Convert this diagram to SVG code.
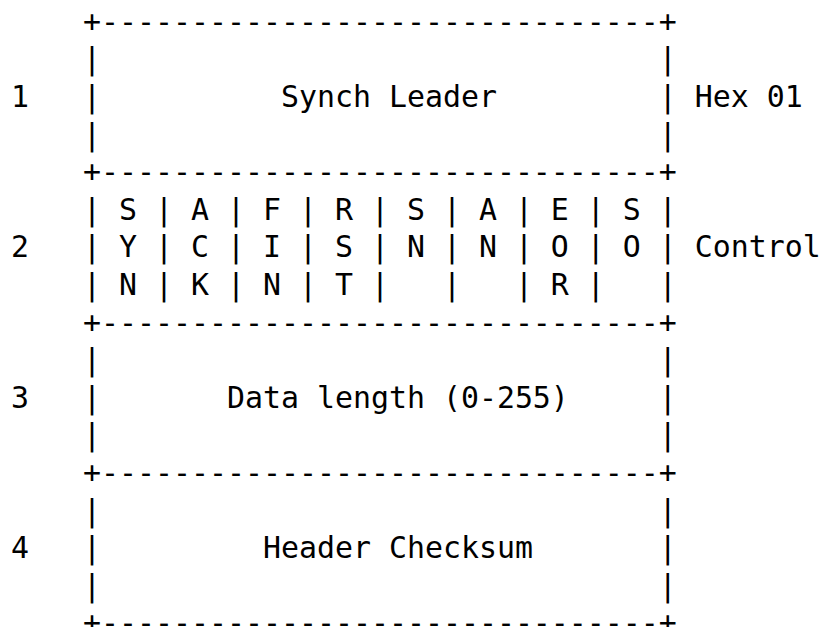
<svg xmlns="http://www.w3.org/2000/svg" width="824" height="627" viewBox="0 0 824 627">
<style>
text{font-family:"DejaVu Sans Mono","Liberation Mono",monospace;font-size:29.9px;fill:#000;white-space:pre}
</style>
<rect width="824" height="627" fill="#fff"/>
<g id="header-diagram" xml:space="preserve">
<g id="row1">
<text x="11" y="31.8">    +-------------------------------+</text>
<text x="11" y="69.4">    |                               |</text>
<text x="11" y="107">1   |          Synch Leader         | Hex 01</text>
<text x="11" y="144.6">    |                               |</text>
<text x="11" y="182.2">    +-------------------------------+</text>
</g>
<g id="row2">
<text x="11" y="219.8">    | S | A | F | R | S | A | E | S |</text>
<text x="11" y="257.4">2   | Y | C | I | S | N | N | O | O | Control</text>
<text x="11" y="295">    | N | K | N | T |   |   | R |   |</text>
<text x="11" y="332.6">    +-------------------------------+</text>
</g>
<g id="row3">
<text x="11" y="370.2">    |                               |</text>
<text x="11" y="407.8">3   |       Data length (0-255)     |</text>
<text x="11" y="445.4">    |                               |</text>
<text x="11" y="483">    +-------------------------------+</text>
</g>
<g id="row4">
<text x="11" y="520.6">    |                               |</text>
<text x="11" y="558.2">4   |         Header Checksum       |</text>
<text x="11" y="595.8">    |                               |</text>
<text x="11" y="633.4">    +-------------------------------+</text>
</g>
</g>
</svg>
